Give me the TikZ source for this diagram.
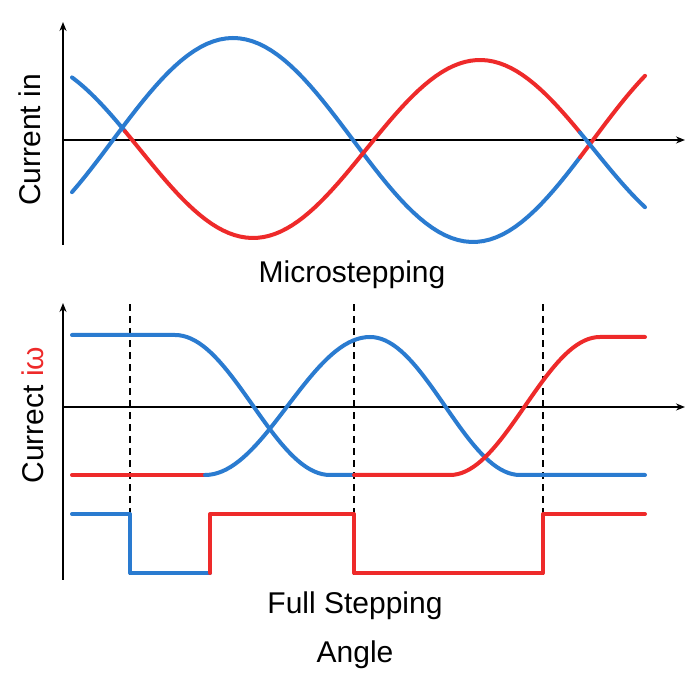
\documentclass[tikz,border=0pt]{standalone}
\usepackage{fontspec}
\setmainfont{Liberation Sans}
\definecolor{cb}{HTML}{2A7BD0}
\definecolor{cr}{HTML}{EE2A2A}
\begin{document}
\begin{tikzpicture}[x=1pt,y=1pt,
  ax/.style={line width=1.5pt,-{Stealth[length=9pt,width=7pt]}},
  wb/.style={cb,line width=4pt,line cap=round,line join=round},
  wr/.style={cr,line width=4pt,line cap=round,line join=round},
  dl/.style={line width=1.3pt,dash pattern=on 7pt off 5pt},
  lab/.style={font=\fontsize{30}{34}\selectfont}]
\useasboundingbox (0,0) rectangle (700,700);
\usetikzlibrary{arrows.meta}
% top plot
\coordinate (o1) at (63,560);
\coordinate (y1) at (63,678);
\coordinate (x1) at (685,560);
\draw[ax] (63,455) -- (y1);
\draw[ax] (o1) -- (x1);
\draw[wb] plot[domain=72:580,samples=80] (\x,{560+102*cos((\x-233)*0.75)});
\draw[wr] plot[domain=580:645,samples=15] (\x,{560+102*cos((\x-233)*0.75)});
\draw[wb] plot[domain=72:125,samples=15] (\x,{551-89*cos((\x-253)*0.793)});
\draw[wr] plot[domain=125:580,samples=80] (\x,{551-89*cos((\x-253)*0.793)});
\draw[wb] plot[domain=580:645,samples=15] (\x,{551-89*cos((\x-253)*0.793)});
\node[lab] (t1) at (352,425) {Microstepping};
\node[lab,rotate=90] (yl1) at (30,560) {Current in};
% bottom plot
\coordinate (o2) at (63,293);
\draw[ax] (63,120) -- (63,397);
\draw[ax] (o2) -- (685,293);
\foreach \xx in {130,354,543} \draw[dl] (\xx,125) -- (\xx,400);
\draw[wb] (72,365) -- (175,365) plot[domain=175:330,samples=40] (\x,{295+70*cos((\x-175)/155*180)}) -- (354,225);
\draw[wr] (72,225) -- (205,225);
\draw[wb] plot[domain=205:370,samples=40] (\x,{294-69*cos((\x-205)/165*180)});
\draw[wb] plot[domain=370:520,samples=40] (\x,{294+69*cos((\x-370)/150*180)}) -- (645,225);
\draw[wr] (354,225) -- (450,225) plot[domain=450:600,samples=40] (\x,{294-69*cos((\x-450)/150*180)}) -- (645,363);
\draw[wb] (72,186) -- (130,186) -- (130,127) -- (210,127);
\draw[wr] (210,127) -- (210,186) -- (354,186) -- (354,127) -- (543,127) -- (543,186) -- (645,186);
\node[lab] (t2) at (355,94) {Full Stepping};
\node[lab] (t3) at (355,45) {Angle};
\node[lab,rotate=90] (yl2) at (33,285) {Currect \textcolor{cr}{iω}};
\end{tikzpicture}
\end{document}
